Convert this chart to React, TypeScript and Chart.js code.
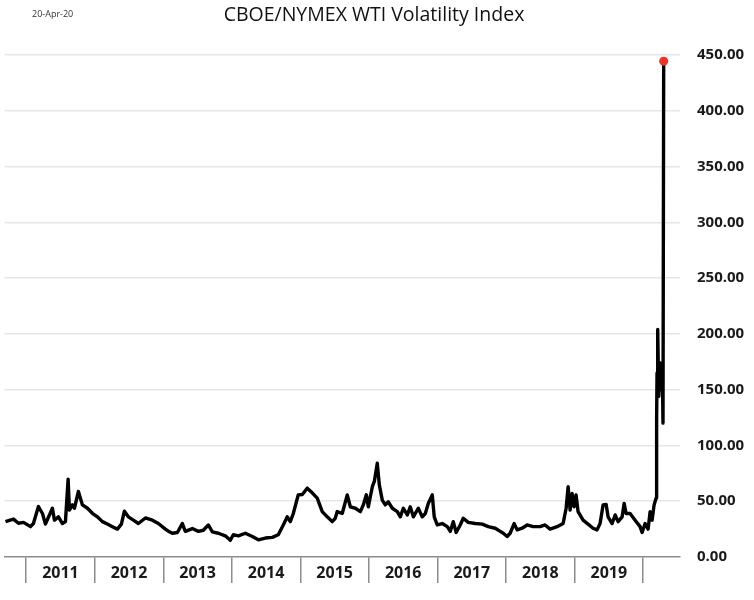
import React, { useEffect, useRef } from 'react';
import { Chart, registerables } from 'chart.js';

Chart.register(...registerables);

const TITLE = 'CBOE/NYMEX WTI Volatility Index';
const DATE_NOTE = '20-Apr-20';

const YEAR_LABELS = ['2011', '2012', '2013', '2014', '2015', '2016', '2017', '2018', '2019'];
const YEAR_BOUNDARIES = [2011, 2012, 2013, 2014, 2015, 2016, 2017, 2018, 2019, 2020];
const Y_TICKS = [0, 50, 100, 150, 200, 250, 300, 350, 400, 450];

const X_MIN = 2010.684;
const X_MAX = 2020.538;

// decimal-year dates of the readings
const dates = [
  2010.698, 2010.815, 2010.888, 2010.961, 2011.063, 2011.106, 2011.179, 2011.238, 2011.281, 2011.383,
  2011.413, 2011.471, 2011.529, 2011.573, 2011.612, 2011.631, 2011.675, 2011.704, 2011.762, 2011.821,
  2011.894, 2011.966, 2012.039, 2012.112, 2012.185, 2012.258, 2012.331, 2012.389, 2012.433, 2012.491,
  2012.564, 2012.637, 2012.739, 2012.841, 2012.929, 2013.031,
  2013.089, 2013.133, 2013.206, 2013.278, 2013.322, 2013.424, 2013.512, 2013.584, 2013.657, 2013.716,
  2013.803, 2013.905, 2013.978, 2014.022, 2014.095, 2014.197, 2014.299, 2014.387, 2014.489, 2014.591,
  2014.678, 2014.751, 2014.809, 2014.853, 2014.897, 2014.969, 2015.028, 2015.100, 2015.173, 2015.246,
  2015.319, 2015.392, 2015.465, 2015.509,
  2015.538, 2015.611, 2015.684, 2015.729, 2015.802, 2015.875, 2015.918, 2015.962, 2015.991, 2016.050,
  2016.079, 2016.122, 2016.152, 2016.195, 2016.239, 2016.283, 2016.341, 2016.414, 2016.458, 2016.502,
  2016.560, 2016.603, 2016.648, 2016.720, 2016.778, 2016.823, 2016.866, 2016.924, 2016.953, 2016.997,
  2017.070, 2017.143, 2017.187, 2017.230, 2017.273, 2017.332, 2017.376, 2017.449, 2017.551, 2017.653,
  2017.741, 2017.843, 2017.915,
  2017.960, 2018.016, 2018.060, 2018.118, 2018.162, 2018.235, 2018.308, 2018.395, 2018.497, 2018.570,
  2018.643, 2018.745, 2018.833, 2018.877, 2018.906, 2018.935, 2018.964, 2018.993, 2019.022, 2019.051,
  2019.124, 2019.197, 2019.270, 2019.328, 2019.372, 2019.416, 2019.460, 2019.489, 2019.548, 2019.592,
  2019.635, 2019.694, 2019.723, 2019.752, 2019.810, 2019.883, 2019.956, 2019.985, 2020.029, 2020.073,
  2020.102, 2020.131, 2020.160, 2020.190, 2020.194, 2020.200, 2020.203, 2020.213, 2020.228, 2020.252,
  2020.267, 2020.281, 2020.290, 2020.300,
];

// OVX index values
const values = [
  31.7, 34.0, 30.3, 31.0, 27.2, 30.0, 45.2, 39.0, 29.5, 43.7,
  33.0, 36.0, 30.0, 31.7, 69.8, 42.0, 46.7, 43.7, 58.7, 46.7,
  43.7, 39.2, 36.0, 31.7, 29.5, 27.2, 25.0, 29.5, 41.0, 36.0,
  33.0, 30.0, 35.0, 33.0, 30.0, 25.0,
  22.6, 21.3, 22.0, 30.0, 23.0, 25.5, 23.0, 24.0, 28.7, 22.6,
  21.3, 19.0, 15.0, 20.0, 19.0, 21.3, 18.4, 15.4, 17.0, 17.6,
  20.0, 28.7, 36.0, 31.7, 39.0, 55.7, 56.0, 61.7, 57.5, 52.8,
  40.7, 36.0, 31.7, 34.7,
  40.7, 39.0, 55.7, 45.0, 43.7, 40.7, 46.7, 55.7, 45.0, 63.0,
  67.7, 84.0, 64.7, 51.0, 46.7, 49.5, 43.7, 40.7, 36.0, 43.7,
  37.7, 45.0, 36.0, 43.7, 36.0, 39.0, 48.0, 55.7, 36.0, 28.7,
  30.0, 27.2, 23.0, 31.7, 22.0, 28.7, 34.7, 31.0, 30.0, 29.5,
  27.2, 25.8, 23.0,
  21.3, 18.4, 21.3, 30.0, 24.3, 25.8, 28.7, 27.2, 27.2, 28.7,
  25.0, 27.2, 30.0, 43.7, 63.0, 42.0, 57.0, 45.0, 55.7, 40.7,
  33.0, 29.5, 25.8, 24.3, 30.0, 46.7, 47.2, 36.0, 30.0, 37.7,
  31.7, 36.0, 48.0, 39.0, 39.0, 33.0, 27.2, 22.0, 30.0, 25.0,
  40.7, 33.0, 46.7, 52.8, 114.0, 123.0, 165.0, 204.0, 144.0, 174.0,
  150.0, 165.0, 120.0, 444.5,
];

const FONT = '"Open Sans", "Liberation Sans", sans-serif';

const headerPlugin = {
  id: 'header',
  afterDraw(chart: any) {
    const ctx = chart.ctx;
    ctx.save();
    ctx.fillStyle = '#111';
    ctx.textAlign = 'center';
    ctx.textBaseline = 'alphabetic';
    ctx.font = `19.5px ${FONT}`;
    ctx.fillText(TITLE, 374, 21);
    ctx.fillStyle = '#333';
    ctx.textAlign = 'left';
    ctx.textBaseline = 'middle';
    ctx.font = `9px ${FONT}`;
    ctx.fillText(DATE_NOTE, 32, 14);
    ctx.restore();
  },
};

export default function App() {
  const ref = useRef<HTMLCanvasElement | null>(null);

  useEffect(() => {
    if (!ref.current) return;
    const mids = YEAR_BOUNDARIES.slice(0, -1).map((y) => y + 0.5);
    const lastIdx = values.length - 1;
    const chart = new Chart(ref.current, {
      type: 'line',
      data: {
        datasets: [
          {
            data: dates.map((d, i) => ({ x: d, y: values[i] })),
            borderColor: '#000',
            borderWidth: 3.4,
            borderJoinStyle: 'round',
            tension: 0,
            pointRadius: (c: any) => (c.dataIndex === lastIdx ? 4.5 : 0),
            pointBackgroundColor: '#ec3326',
            pointBorderWidth: 0,
            pointHoverRadius: 0,
          } as any,
        ],
      },
      options: {
        animation: false,
        responsive: false,
        maintainAspectRatio: false,
        layout: { padding: { left: 4, top: 55, right: 0, bottom: 0 } },
        plugins: {
          legend: { display: false },
          tooltip: { enabled: false },
          title: { display: false },
        },
        scales: {
          x: {
            type: 'linear',
            min: X_MIN,
            max: X_MAX,
            afterBuildTicks: (s: any) => {
              const all = [...YEAR_BOUNDARIES, ...mids].sort((a, b) => a - b);
              s.ticks = all.map((v) => ({ value: v }));
            },
            afterFit: (s: any) => {
              s.height = 43;
            },
            ticks: {
              autoSkip: false,
              maxRotation: 0,
              minRotation: 0,
              padding: -19,
              color: '#1a1a1a',
              font: { family: FONT, size: 16, weight: 'bold' },
              callback: (v: any) => {
                const i = mids.findIndex((m) => Math.abs(m - v) < 1e-6);
                return i >= 0 ? YEAR_LABELS[i] : '';
              },
            },
            grid: {
              drawOnChartArea: false,
              drawTicks: true,
              tickLength: 26,
              lineWidth: 1.5,
              color: (c: any) =>
                c.tick && YEAR_BOUNDARIES.includes(c.tick.value) ? '#8c8c8c' : 'rgba(0,0,0,0)',
            },
            border: { display: true, color: '#8c8c8c', width: 1.5 },
          } as any,
          y: {
            position: 'right',
            min: 0,
            max: 450,
            afterBuildTicks: (s: any) => {
              s.ticks = Y_TICKS.map((v) => ({ value: v }));
            },
            afterFit: (s: any) => {
              s.width = 74;
            },
            ticks: {
              padding: 17,
              color: '#1a1a1a',
              font: { family: FONT, size: 15, weight: 'bold' },
              callback: (v: any) => Number(v).toFixed(2),
            },
            grid: {
              drawTicks: false,
              lineWidth: 1.5,
              color: (c: any) => (c.tick && c.tick.value === 0 ? 'rgba(0,0,0,0)' : '#e6e6e6'),
            },
            border: { display: false },
          } as any,
        },
      },
      plugins: [headerPlugin],
    });
    return () => chart.destroy();
  }, []);

  return (
    <div style={{ position: 'fixed', left: 0, top: 0, width: 754, height: 600, background: '#fff' }}>
      <canvas ref={ref} width={754} height={600} style={{ width: 754, height: 600 }} />
    </div>
  );
}
